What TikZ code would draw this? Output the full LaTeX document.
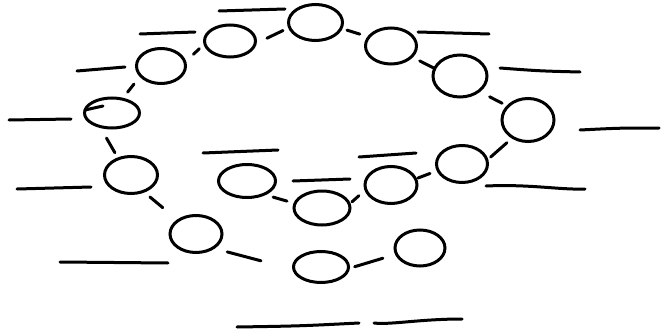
\documentclass[tikz,border=0pt]{standalone}
\usetikzlibrary{shapes.geometric,calc}
\begin{document}
\begin{tikzpicture}[x=1pt,y=-1pt,
  blob/.style={ellipse,draw,line width=3pt,inner sep=0pt},
  link/.style={line width=3pt,line cap=round},
  blank/.style={line width=3pt,line cap=round}]
\useasboundingbox[fill=white] (0,0) rectangle (664,329);
% circles
\node[blob,minimum width=54pt,minimum height=36pt] (A) at (315.5,22.5) {};
\node[blob,minimum width=51pt,minimum height=32pt] (B) at (230,41) {};
\node[blob,minimum width=49pt,minimum height=35pt] (C) at (161,66) {};
\node[blob,minimum width=55pt,minimum height=30pt] (D) at (112,113) {};
\node[blob,minimum width=51pt,minimum height=36pt] (E) at (391,46) {};
\node[blob,minimum width=54pt,minimum height=42pt] (F) at (460,76) {};
\node[blob,minimum width=52pt,minimum height=43pt] (G) at (528,120) {};
\node[blob,minimum width=51pt,minimum height=37pt] (H) at (462,164) {};
\node[blob,minimum width=53pt,minimum height=37pt] (I) at (131,175) {};
\node[blob,minimum width=57pt,minimum height=33pt] (J) at (247,181) {};
\node[blob,minimum width=52pt,minimum height=37pt] (K) at (196,234) {};
\node[blob,minimum width=56pt,minimum height=34pt] (L) at (322,208) {};
\node[blob,minimum width=55pt,minimum height=31pt] (M) at (321,267) {};
\node[blob,minimum width=52pt,minimum height=37pt] (N) at (391,185) {};
\node[blob,minimum width=50pt,minimum height=36pt] (O) at (420,248) {};
% pen start tick inside D
\coordinate (Dtick) at (103,106);
\draw[link] (D.west) ++(2,-3) -- (Dtick);
% connectors
\draw[link] ($(A)!0.38!(B)+(0,1)$) -- ($(A)!0.58!(B)+(1,5)$);
\draw[link] ($(A)!0.41!(E)+(0.5,-2)$) -- ($(A)!0.58!(E)+(0.5,-2)$);
\draw[link] ($(B)!0.43!(C)+(-1,-3)$) -- ($(B)!0.53!(C)$);
\draw[link] ($(C)!0.47!(D)+(-4,-4)$) -- ($(C)!0.62!(D)+(-3,-3)$);
\draw[link] ($(D)!0.34!(I)+(-12,4)$) -- ($(D)!0.60!(I)+(-8.5,2.5)$);
\draw[link] ($(E)!0.43!(F)+(-1,2)$) -- ($(E)!0.64!(F)+(-1,3)$);
\draw[link] ($(F)!0.45!(G)+(-1,1)$) -- ($(F)!0.62!(G)$);
\draw[link] ($(G)!0.38!(H)+(4,6)$) -- ($(G)!0.65!(H)+(5.5,8.5)$);
\draw[link] ($(H)!0.45!(N)$) -- ($(H)!0.62!(N)+(0,1)$);
\draw[link] ($(N)!0.465!(L)$) -- ($(N)!0.58!(L)+(1,3.5)$);
\draw[link] ($(J)!0.375!(L)+(-2,6)$) -- ($(J)!0.56!(L)+(-2,5)$);
\draw[link] ($(I)!0.33!(K)+(-2.5,2.5)$) -- ($(I)!0.52!(K)+(-2,2)$);
\draw[link] ($(K)!0.27!(M)+(-2.5,9)$) -- ($(K)!0.54!(M)+(-2.5,9)$);
\draw[link] ($(M)!0.33!(O)+(1,6)$) -- ($(M)!0.62!(O)+(0.5,3)$);
% blanks
\draw[blank] (219,11) -- (285,9);
\draw[blank] (140,34) -- (195,32);
\draw[blank] (77,71) -- (125,67);
\draw[blank] (9,120) -- (71,119);
\draw[blank] (17,189) -- (91,187);
\draw[blank] (60,262) -- (168,263);
\draw[blank] (203,153) -- (278,150);
\draw[blank] (293,181) -- (350,179);
\draw[blank] (359,157) -- (416,153);
\draw[blank] (418,32) -- (489,34);
\draw[blank] (500,68) .. controls (540,71) .. (580,72);
\draw[blank] (580,130) .. controls (620,128) .. (659,128);
\draw[blank] (486,186) .. controls (530,184) and (560,190) .. (585,189);
\draw[blank] (237,327) .. controls (300,326) .. (359,323);
\draw[blank] (374,323) .. controls (390,325) and (420,319) .. (462,319);
\end{tikzpicture}
\end{document}
